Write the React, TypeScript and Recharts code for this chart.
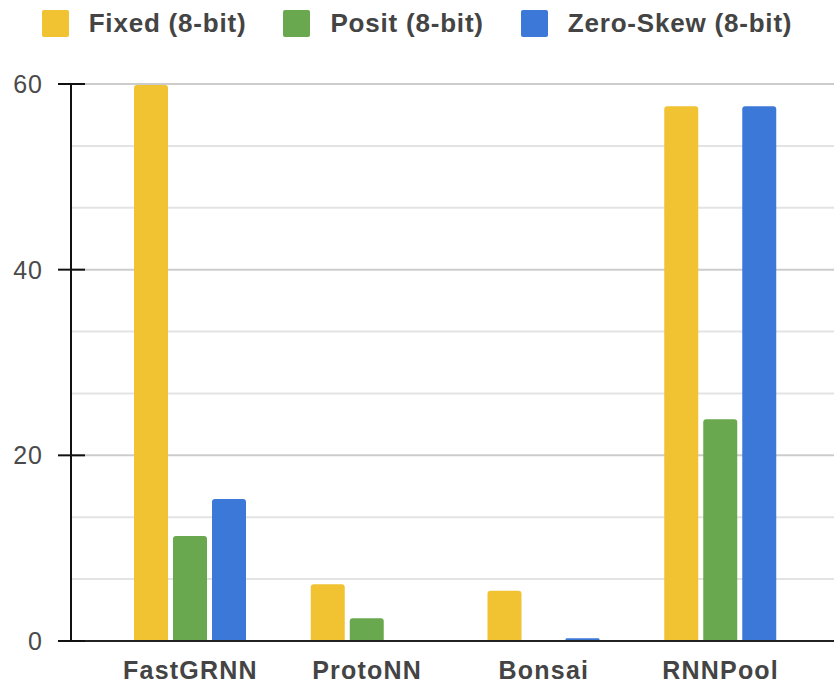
import { Bar, BarChart, CartesianGrid, Legend, XAxis, YAxis } from "recharts";

const categories = ["FastGRNN", "ProtoNN", "Bonsai", "RNNPool"];
const fixedValues = [59.9, 6.1, 5.4, 57.6];
const positValues = [11.3, 2.45, 0, 23.9];
const zeroSkewValues = [15.3, 0, 0.3, 57.6];
const yTicks = [0, 20 / 3, 40 / 3, 20, 80 / 3, 100 / 3, 40, 140 / 3, 160 / 3, 60];

const series = [
  { key: "fixed", name: "Fixed (8-bit)", color: "#f1c232" },
  { key: "posit", name: "Posit (8-bit)", color: "#6aa84f" },
  { key: "zeroSkew", name: "Zero-Skew (8-bit)", color: "#3c78d8" },
];

const data = categories.map((name, i) => ({
  name,
  fixed: fixedValues[i],
  posit: positValues[i],
  zeroSkew: zeroSkewValues[i],
}));

const FONT = '"Liberation Sans", Arial, sans-serif';

const isMajor = (v: number) => Math.abs(v / 20 - Math.round(v / 20)) < 0.001;

const YTick = ({ x, y, payload }: any) => {
  const v = payload?.value ?? 0;
  if (!isMajor(v)) return null;
  return (
    <g>
      <line x1={x - 13} x2={x + 14} y1={y} y2={y} stroke="#111" strokeWidth={2} />
      <text
        x={x - 28}
        y={y}
        dy="0.36em"
        textAnchor="end"
        fontFamily={FONT}
        fontSize={25}
        letterSpacing={1}
        fill="#4a4a4a"
      >
        {Math.round(v)}
      </text>
    </g>
  );
};

const GridLine = (props: any) => {
  const { x1, x2, y1, y2, index } = props;
  const major = index % 3 === 0;
  return (
    <line
      key={`grid-${index}`}
      x1={x1}
      x2={x2}
      y1={y1}
      y2={y2}
      stroke={major ? "#cccccc" : "#e3e3e3"}
      strokeWidth={2}
    />
  );
};

const LegendContent = () => (
  <div
    style={{
      display: "flex",
      justifyContent: "center",
      alignItems: "center",
      height: 47,
      boxSizing: "border-box",
      fontFamily: FONT,
    }}
  >
    {series.map((s, i) => (
      <div
        key={s.key}
        style={{
          display: "flex",
          alignItems: "center",
          marginLeft: i === 0 ? 0 : 37,
        }}
      >
        <div
          style={{
            width: 27,
            height: 27,
            borderRadius: 2,
            background: s.color,
            marginRight: 20,
          }}
        />
        <span
          style={{
            fontSize: 26,
            fontWeight: "bold",
            letterSpacing: 0.8,
            color: "#444",
          }}
        >
          {s.name}
        </span>
      </div>
    ))}
  </div>
);

export default function App() {
  return (
    <div style={{ position: "absolute", left: 0, top: 0, background: "#fff" }}>
      <BarChart
        width={834}
        height={684}
        data={data}
        margin={{ top: 37, right: 0, bottom: 0, left: 0 }}
        barSize={34}
        barGap={5}
        barCategoryGap={32}
      >
        <CartesianGrid vertical={false} horizontal={GridLine} />
        <Legend
          verticalAlign="top"
          content={LegendContent}
          wrapperStyle={{ top: 0, left: 0, width: 834, height: 47 }}
        />
        <XAxis
          dataKey="name"
          height={43}
          padding={{ left: 31, right: 25 }}
          tickLine={false}
          tickSize={0}
          tickMargin={20}
          axisLine={{ stroke: "#222", strokeWidth: 2 }}
          tick={{
            fontFamily: FONT,
            fontSize: 25,
            fontWeight: "bold",
            letterSpacing: 1.2,
            fill: "#444",
          }}
        />
        <YAxis
          width={71}
          domain={[0, 60]}
          ticks={yTicks}
          interval={0}
          tickLine={false}
          tickSize={0}
          tickMargin={0}
          axisLine={{ stroke: "#111", strokeWidth: 2 }}
          tick={YTick}
        />
        {series.map((s) => (
          <Bar
            key={s.key}
            dataKey={s.key}
            name={s.name}
            fill={s.color}
            radius={[3, 3, 0, 0]}
            isAnimationActive={false}
          />
        ))}
      </BarChart>
    </div>
  );
}
